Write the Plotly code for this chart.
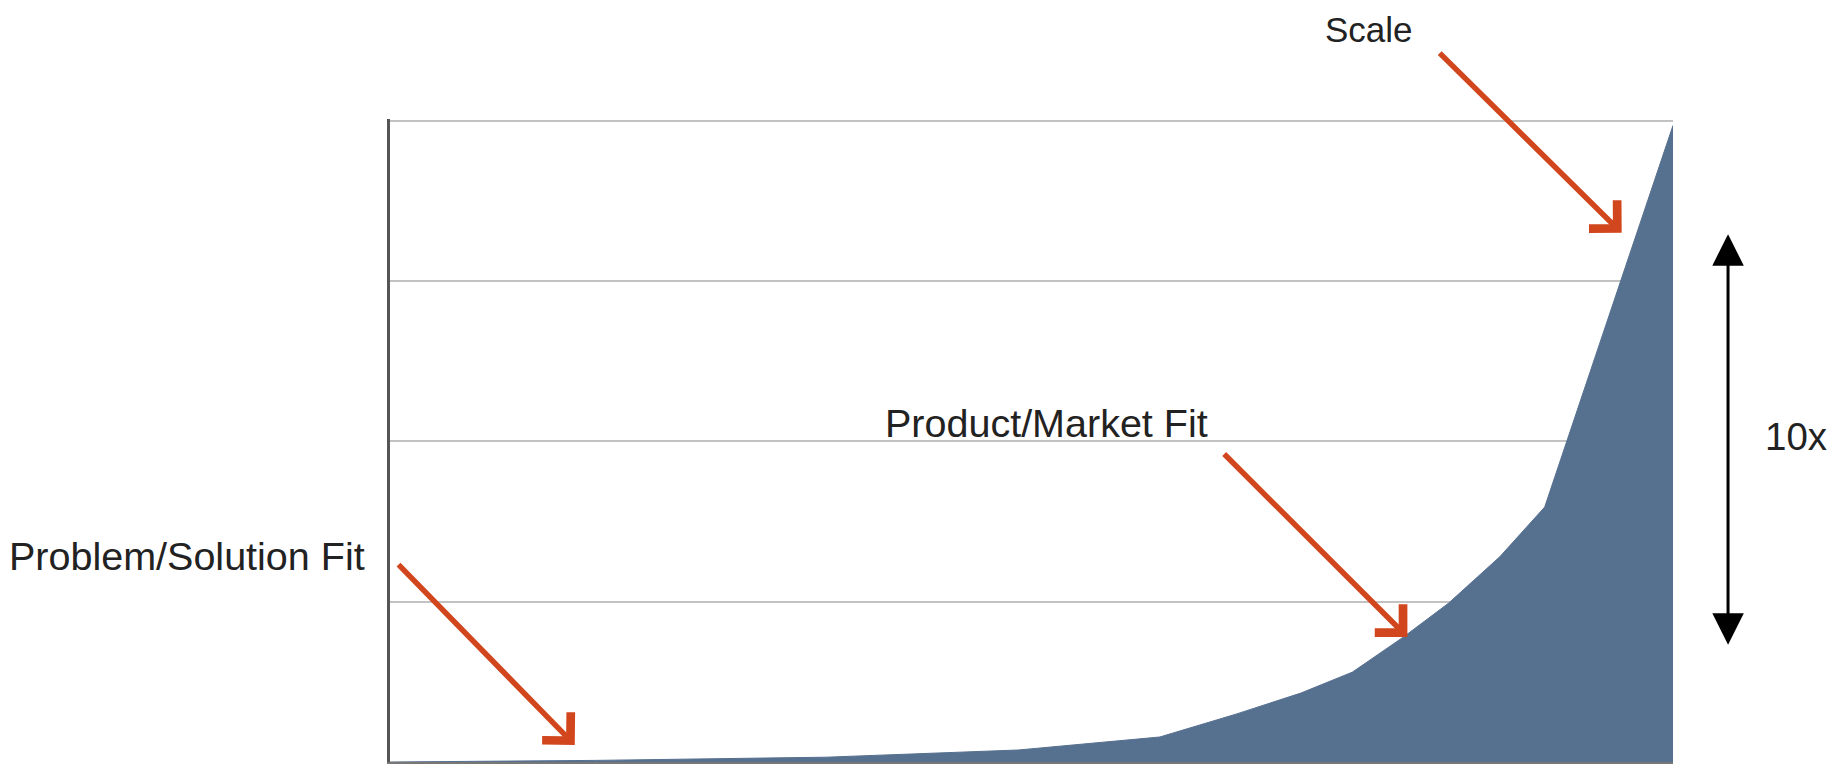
import plotly.graph_objects as go

# Growth curve: time (0-100) vs traction (grid units 0-4)
time_pts = [0, 16, 34, 49, 60, 66, 71, 75, 79, 82.5, 86.5, 90, 100]
traction = [0, 0.01, 0.03, 0.075, 0.156, 0.30, 0.43, 0.56, 0.78, 0.99, 1.28, 1.59, 3.97]
grid_ticks = [0, 1, 2, 3, 4]

# Stage callouts: label, arrow tip (time, traction), arrow tail (time, traction)
stage_labels = ["Problem/Solution Fit", "Product/Market Fit", "Scale"]
tip_time = [14.4, 79.3, 96.0]
tip_traction = [0.106, 0.78, 3.30]
tail_time = [0.55, 64.9, 81.7]
tail_traction = [1.24, 1.93, 4.43]
growth_label = "10x"

FONT = "Liberation Sans, Arial, Helvetica, sans-serif"
TEXT_COLOR = "#222222"
ARROW_COLOR = "#d2461e"
AREA_COLOR = "#56708f"

fig = go.Figure()
fig.add_trace(go.Scatter(
    x=time_pts, y=traction, mode="lines", fill="tozeroy",
    fillcolor=AREA_COLOR, line=dict(color=AREA_COLOR, width=1),
    hoverinfo="skip", showlegend=False,
))

annotations = []
# orange callout arrows pointing at the curve
for tx, ty, ax, ay in zip(tip_time, tip_traction, tail_time, tail_traction):
    annotations.append(dict(
        x=tx, y=ty, xref="x", yref="y", ax=ax, ay=ay, axref="x", ayref="y",
        text="", showarrow=True, arrowhead=4, arrowsize=1.4, arrowwidth=5.5,
        arrowcolor=ARROW_COLOR, standoff=0,
    ))

# stage labels
label_pos = [
    dict(x=-0.0179, y=0.3198, xanchor="right", size=39.5),
    dict(x=0.5117, y=0.5273, xanchor="center", size=39.5),
    dict(x=0.7627, y=1.1395, xanchor="center", size=35),
]
for txt, p in zip(stage_labels, label_pos):
    annotations.append(dict(
        x=p["x"], y=p["y"], xref="paper", yref="paper", text=txt,
        showarrow=False, xanchor=p["xanchor"], yanchor="middle",
        font=dict(family=FONT, size=p["size"], color=TEXT_COLOR),
    ))

# vertical double-headed growth arrow and its label
annotations.append(dict(
    x=1.0429, y=0.1825, xref="paper", yref="paper", ax=0, ay=-412,
    axref="pixel", ayref="pixel", text="", showarrow=True,
    arrowside="end+start", arrowhead=2, startarrowhead=2,
    arrowsize=2.1, startarrowsize=2.1, arrowwidth=3, arrowcolor="#000000",
    standoff=0, startstandoff=0,
))
annotations.append(dict(
    x=1.0959, y=0.5060, xref="paper", yref="paper", text=growth_label,
    showarrow=False, xanchor="center", yanchor="middle",
    font=dict(family=FONT, size=38.5, color=TEXT_COLOR),
))

fig.update_layout(
    width=1835, height=764,
    margin=dict(l=390, r=162, t=119, b=2, pad=0),
    paper_bgcolor="white", plot_bgcolor="white",
    xaxis=dict(range=[0, 100], showgrid=False, zeroline=False,
               showticklabels=False, ticks="", showline=True,
               linecolor="#777777", linewidth=2, fixedrange=True),
    yaxis=dict(range=[0, 4.01], tickvals=grid_ticks, showgrid=True,
               gridcolor="#c2c2c2", gridwidth=2, zeroline=False,
               showticklabels=False, ticks="", showline=True,
               linecolor="#555555", linewidth=3, fixedrange=True),
    annotations=annotations,
    showlegend=False,
)

fig.write_html("out.html", config=dict(displayModeBar=False))
